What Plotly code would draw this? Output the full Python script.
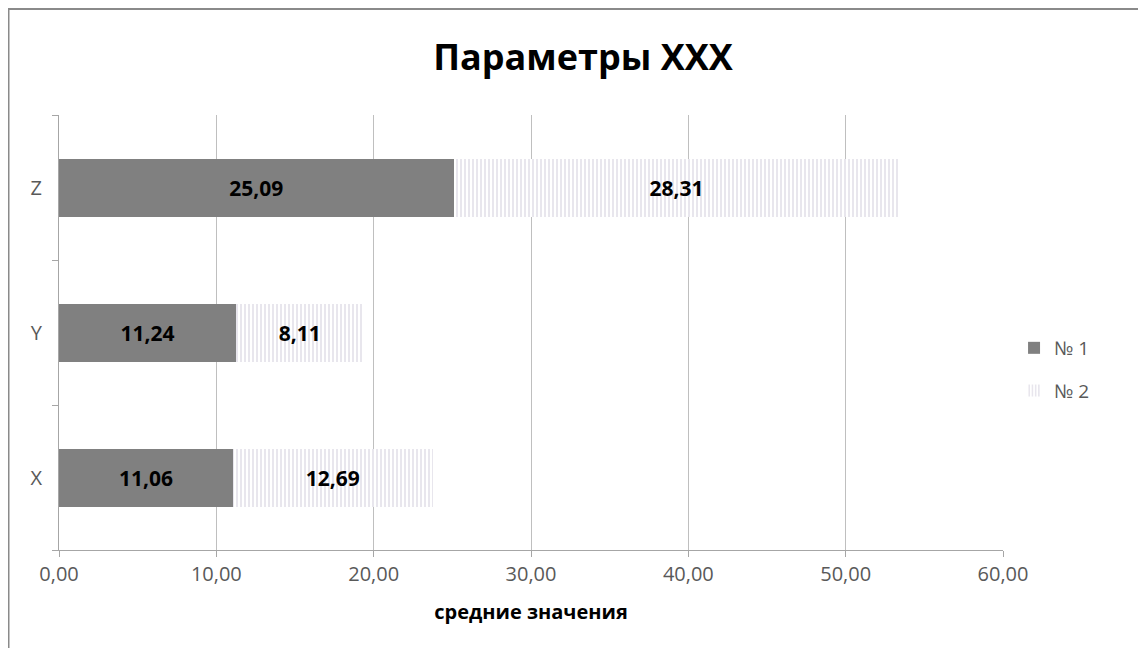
import plotly.graph_objects as go

categories = ["X", "Y", "Z"]
series1_name = "№ 1"
series1 = [11.06, 11.24, 25.09]
series2_name = "№ 2"
series2 = [12.69, 8.11, 28.31]
x_ticks = [0, 10, 20, 30, 40, 50, 60]

FONT = "Open Sans"
TXT = "#595959"

L, R, T, B = 51, 151, 107, 106
PW, PH = 1146 - L - R, 648 - T - B

fig = go.Figure()
fig.add_trace(go.Bar(
    y=categories, x=series1, name=series1_name, orientation="h",
    legendgroup="g1",
    marker=dict(color="#808080", line=dict(width=0)),
    width=0.4,
    texttemplate="%{x:.2f}", textposition="inside", insidetextanchor="middle",
    textfont=dict(family=FONT, size=21, color="#000000", weight="bold"),
))
fig.add_trace(go.Bar(
    y=categories, x=series2, name=series2_name, orientation="h",
    legendgroup="g2",
    marker=dict(color="#ffffff", line=dict(width=0),
                pattern=dict(shape="|", fgcolor="#c6c0d2", bgcolor="#ffffff",
                             size=4, solidity=0.4)),
    width=0.4,
    texttemplate="%{x:.2f}", textposition="inside", insidetextanchor="middle",
    textfont=dict(family=FONT, size=21, color="#000000", weight="bold"),
))

fig.update_layout(
    barmode="stack",
    width=1146, height=648,
    separators=", ",
    paper_bgcolor="#ffffff", plot_bgcolor="#ffffff",
    margin=dict(l=L, r=R, t=T, b=B),
    font=dict(family=FONT, color=TXT, size=20),
    title=dict(text="<b>Параметры XXX</b>", x=0.5017, xanchor="center",
               y=0.923, yanchor="middle",
               font=dict(family=FONT, size=36, color="#000000")),
    legend=dict(x=1.0117, xanchor="left", y=0.415, yanchor="middle",
                font=dict(size=19, color=TXT), traceorder="grouped",
                itemsizing="constant", tracegroupgap=15),
    xaxis=dict(range=[0, 60], tickvals=x_ticks, tickformat=".2f",
               showgrid=True, gridcolor="#bfbfbf", gridwidth=1,
               showline=True, linecolor="#a6a6a6", linewidth=1,
               ticks="outside", ticklen=6, tickcolor="#a6a6a6",
               zeroline=False,
               title=dict(text="<b>средние значения</b>", standoff=18,
                          font=dict(size=20, color="#000000"))),
    yaxis=dict(showline=True, linecolor="#a6a6a6", linewidth=1,
               ticks="outside", ticklen=6, tickcolor="#a6a6a6",
               tickson="boundaries", showgrid=False,
               ticklabelstandoff=12),
    shapes=[dict(type="rect", xref="paper", yref="paper",
                 x0=(0.5 - L) / PW, x1=1.2, y0=-0.4, y1=1 + (T - 1) / PH,
                 line=dict(color="#8a8a8a", width=2), fillcolor="rgba(0,0,0,0)",
                 layer="below")],
)

fig.write_html("out.html")
